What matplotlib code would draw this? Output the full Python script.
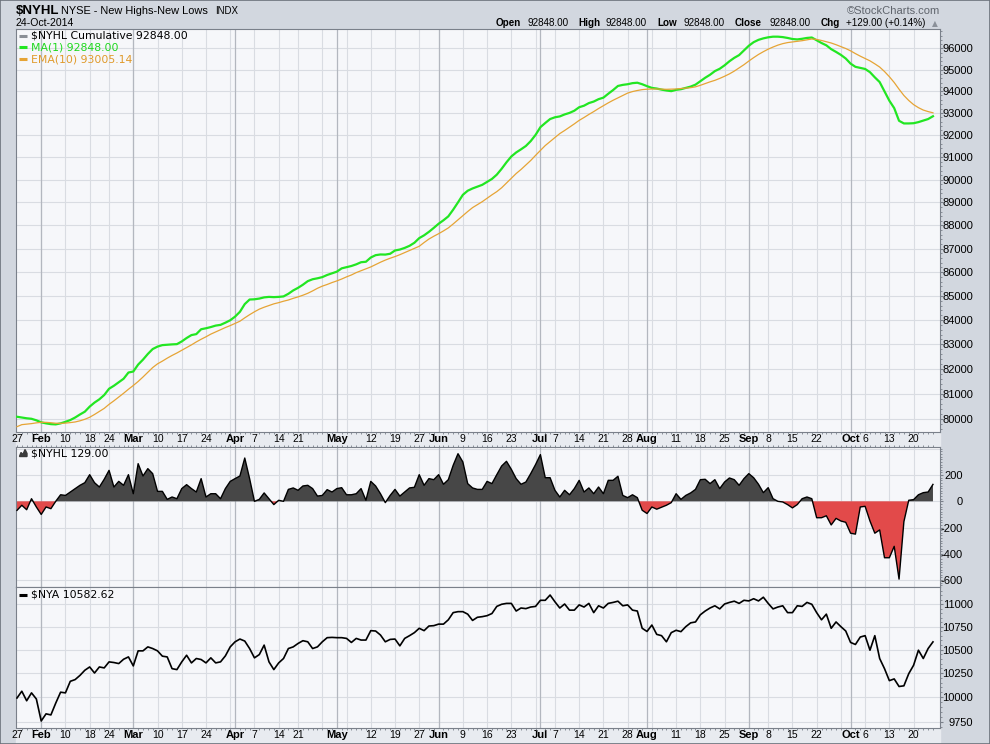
import numpy as np
import pandas as pd
import matplotlib
matplotlib.use("Agg")
import matplotlib.pyplot as plt
from matplotlib.lines import Line2D
from matplotlib.patches import Rectangle, Polygon
from matplotlib.ticker import FixedLocator, NullFormatter

# Trading days shown on the chart
HOLIDAYS = ["2014-02-17", "2014-04-18", "2014-05-26", "2014-07-04", "2014-09-01"]
DATES = pd.bdate_range("2014-01-27", "2014-10-24", freq="C", holidays=HOLIDAYS)

# $NYHL Cumulative (MA(1)) - green line
NYHL_CUM = [80100, 80070, 80040, 80020, 79960, 79880, 79840, 79810, 79800, 79840,
            79900, 79970, 80070, 80190, 80300, 80500, 80660, 80790, 80960, 81210,
            81330, 81470, 81610, 81860, 81900, 82180, 82380, 82610, 82810, 82910,
            82970, 82985, 83000, 83010, 83120, 83260, 83380, 83420, 83620, 83660,
            83710, 83770, 83800, 83890, 83990, 84140, 84340, 84660, 84850, 84860,
            84890, 84940, 84960, 84950, 84960, 84980, 85090, 85230, 85340, 85470,
            85620, 85700, 85740, 85790, 85880, 85950, 86020, 86160, 86210, 86260,
            86330, 86420, 86440, 86620, 86720, 86750, 86745, 86780, 86920, 86960,
            87030, 87120, 87250, 87450, 87570, 87720, 87890, 88070, 88220, 88390,
            88680, 89000, 89330, 89510, 89610, 89690, 89770, 89900, 90030, 90220,
            90480, 90770, 91030, 91210, 91350, 91500, 91720, 92000, 92350, 92540,
            92720, 92800, 92840, 92930, 93000, 93100, 93260, 93330, 93450, 93520,
            93630, 93700, 93880, 94050, 94240, 94290, 94320, 94370, 94390, 94320,
            94230, 94150, 94120, 94070, 94030, 94000, 94060, 94090, 94150, 94210,
            94300, 94460, 94620, 94760, 94930, 95040, 95200, 95390, 95550, 95680,
            95900, 96120, 96290, 96400, 96470, 96520, 96550, 96550, 96530, 96490,
            96440, 96420, 96450, 96490, 96510, 96380, 96250, 96140, 95960, 95830,
            95690, 95520, 95280, 95130, 95080, 95030, 94880, 94640, 94420, 93990,
            93560, 93220, 92640, 92520, 92520, 92530, 92580, 92650, 92720, 92848]

# EMA(10) - orange line
EMA10 = [79710, 79790, 79810, 79830, 79860, 79880, 79880, 79865, 79845, 79840,
         79850, 79870, 79895, 79940, 80000, 80080, 80190, 80310, 80430, 80590,
         80730, 80880, 81030, 81190, 81340, 81500, 81680, 81870, 82060, 82210,
         82320, 82440, 82550, 82650, 82760, 82870, 82980, 83100, 83210, 83310,
         83420, 83510, 83600, 83690, 83770, 83860, 83950, 84090, 84220, 84340,
         84450, 84530, 84600, 84670, 84720, 84780, 84830, 84900, 84960, 85030,
         85110, 85210, 85320, 85410, 85480, 85560, 85630, 85710, 85800, 85880,
         85980, 86060, 86140, 86220, 86320, 86420, 86510, 86590, 86660, 86740,
         86830, 86920, 87010, 87100, 87260, 87410, 87530, 87640, 87760, 87890,
         88060, 88240, 88420, 88600, 88770, 88900, 89030, 89180, 89330, 89470,
         89640, 89850, 90060, 90270, 90450, 90650, 90850, 91080, 91300, 91520,
         91700, 91880, 92060, 92200, 92350, 92500, 92660, 92790, 92930, 93060,
         93200, 93330, 93460, 93580, 93690, 93800, 93910, 93980, 94030, 94070,
         94090, 94100, 94100, 94090, 94085, 94090, 94100, 94120, 94140, 94160,
         94200, 94270, 94350, 94430, 94500, 94590, 94690, 94800, 94930, 95080,
         95230, 95400, 95560, 95710, 95840, 95960, 96060, 96150, 96220, 96270,
         96300, 96330, 96360, 96400, 96440, 96420, 96370, 96310, 96250, 96170,
         96080, 95990, 95880, 95750, 95630, 95520, 95410, 95270, 95120, 94910,
         94670, 94400, 94090, 93800, 93570, 93380, 93240, 93130, 93060, 93005]

# $NYHL daily (new highs - new lows)
NYHL = [-69, -30, -64, 20, -43, -100, -43, -56, 0, 50,
        45, 71, 97, 122, 142, 203, 142, 109, 168, 236,
        109, 152, 122, 203, 58, 287, 193, 249, 211, 76,
        76, 15, 33, 20, 97, 127, 97, 71, 173, 33,
        58, 58, 20, 97, 152, 173, 193, 330, 173, 0,
        15, 64, 20, -25, 8, 0, 91, 102, 84, 117,
        122, 97, 40, 45, 89, 71, 97, 104, 50, 50,
        58, 97, 8, 152, 117, 58, -10, 45, 91, 40,
        71, 102, 107, 203, 122, 173, 165, 203, 130, 165,
        274, 363, 300, 135, 102, 91, 91, 152, 135, 203,
        269, 305, 244, 173, 130, 147, 211, 280, 356, 180,
        180, 84, 33, 84, 50, 97, 160, 71, 102, 58,
        109, 58, 160, 160, 191, 45, 28, 50, 28, -68,
        -93, -43, -60, -45, -30, -10, 58, 15, 45, 64,
        91, 165, 168, 135, 165, 97, 147, 178, 165, 122,
        173, 211, 180, 130, 66, 104, 20, 0, -5, -25,
        -50, -25, 20, 33, 20, -125, -125, -110, -180, -130,
        -150, -160, -243, -250, -43, -38, -150, -243, -218, -430,
        -430, -343, -593, -155, 8, 13, 50, 66, 71, 129]

# $NYA close
NYA = [9990, 10060, 9962, 10043, 9980, 9757, 9829, 9818, 9938, 10050,
       10043, 10163, 10181, 10225, 10279, 10314, 10250, 10314, 10304, 10368,
       10361, 10350, 10396, 10421, 10325, 10486, 10486, 10529, 10511, 10486,
       10429, 10421, 10296, 10286, 10368, 10439, 10357, 10404, 10393, 10357,
       10411, 10357, 10368, 10432, 10529, 10584, 10614, 10592, 10511, 10411,
       10446, 10548, 10368, 10286, 10357, 10404, 10511, 10529, 10566, 10596,
       10584, 10511, 10529, 10584, 10629, 10632, 10629, 10629, 10621, 10577,
       10621, 10603, 10603, 10706, 10702, 10658, 10584, 10610, 10614, 10540,
       10621, 10651, 10684, 10732, 10706, 10757, 10761, 10778, 10778, 10826,
       10906, 10917, 10917, 10889, 10819, 10854, 10861, 10872, 10896, 10976,
       11000, 11010, 11010, 10924, 10958, 10951, 10969, 10976, 11045, 11045,
       11105, 11028, 10958, 11003, 10934, 10934, 10993, 10969, 11010, 10906,
       10983, 10958, 11010, 11021, 11035, 10983, 10993, 10934, 10924, 10732,
       10697, 10768, 10665, 10651, 10584, 10684, 10710, 10695, 10750, 10792,
       10802, 10882, 10924, 10958, 10983, 10948, 11003, 11021, 11035, 11010,
       11045, 11038, 11063, 11038, 11080, 11010, 10948, 10969, 10983, 10906,
       10906, 10983, 10976, 11021, 11000, 10906, 10826, 10889, 10732, 10802,
       10750, 10702, 10577, 10555, 10636, 10651, 10493, 10651, 10404, 10296,
       10170, 10188, 10109, 10116, 10243, 10332, 10493, 10404, 10511, 10583]

# x axis labels (date, text)
XLABELS = [("2014-01-27", "27"), ("2014-02-03", "Feb"), ("2014-02-10", "10"),
           ("2014-02-18", "18"), ("2014-02-24", "24"), ("2014-03-03", "Mar"),
           ("2014-03-10", "10"), ("2014-03-17", "17"), ("2014-03-24", "24"),
           ("2014-04-01", "Apr"), ("2014-04-07", "7"), ("2014-04-14", "14"),
           ("2014-04-21", "21"), ("2014-05-01", "May"), ("2014-05-12", "12"),
           ("2014-05-19", "19"), ("2014-05-27", "27"), ("2014-06-02", "Jun"),
           ("2014-06-09", "9"), ("2014-06-16", "16"), ("2014-06-23", "23"),
           ("2014-07-01", "Jul"), ("2014-07-07", "7"), ("2014-07-14", "14"),
           ("2014-07-21", "21"), ("2014-07-28", "28"), ("2014-08-01", "Aug"),
           ("2014-08-11", "11"), ("2014-08-18", "18"), ("2014-08-25", "25"),
           ("2014-09-02", "Sep"), ("2014-09-08", "8"), ("2014-09-15", "15"),
           ("2014-09-22", "22"), ("2014-10-01", "Oct"), ("2014-10-06", "6"),
           ("2014-10-13", "13"), ("2014-10-20", "20")]
MONTHS = {"Feb", "Mar", "Apr", "May", "Jun", "Jul", "Aug", "Sep", "Oct"}

Y1_TICKS = list(range(80000, 97000, 1000))
Y2_TICKS = [-600, -400, -200, 0, 200]
Y3_TICKS = [9750, 10000, 10250, 10500, 10750, 11000]

# Look
W, H = 990, 744
BG = "#d2d7df"
STRIP = "#e8ebf0"
FACE = "#f6f7fa"
GRID = "#d9dce2"
GRID_M = "#b3b7bf"
SPINE = "#7a808a"
GREEN = "#22e622"
ORANGE = "#e6a435"
DARK = "#474747"
RED = "#e24a4a"
TXT = ["Liberation Sans", "DejaVu Sans"]


def fx(x):
    return x / W


def fy(y):
    return 1 - y / H


plt.rcParams["axes.unicode_minus"] = False
fig = plt.figure(figsize=(9.9, 7.44), dpi=100, facecolor=BG)

for top, bot in [(432, 447), (728, 744)]:
    fig.add_artist(Rectangle((fx(16), fy(bot)), fx(940) - fx(16), fy(top) - fy(bot),
                             transform=fig.transFigure, color=STRIP, zorder=-5))


def make_ax(top, bottom):
    return fig.add_axes([fx(16), fy(bottom), fx(940) - fx(16), fy(top) - fy(bottom)],
                        facecolor=FACE)


ax1 = make_ax(29, 432)
ax2 = make_ax(447, 587)
ax3 = make_ax(587, 728)

x = np.arange(len(DATES))
pos = pd.Series(x, index=DATES)
week_first = pos.groupby(DATES.to_period("W")).min().values
month_first = pos.groupby(DATES.to_period("M")).min().values
label_pos = [DATES.get_loc(pd.Timestamp(d)) for d, _ in XLABELS]
label_txt = [t for _, t in XLABELS]

for ax in (ax1, ax2, ax3):
    ax.set_xlim(-0.2, 190.45)
    for p in week_first[1:]:
        ax.axvline(p, color=GRID, lw=0.8, zorder=0.5)
    for p in month_first[1:]:
        ax.axvline(p, color=GRID_M, lw=0.9, zorder=0.6)
    ax.grid(axis="y", which="major", color=GRID, lw=0.8)
    ax.set_axisbelow(True)
    for s in ax.spines.values():
        s.set_color(SPINE)
        s.set_linewidth(0.8)
    ax.set_xticks(x, minor=True)
    ax.xaxis.set_minor_formatter(NullFormatter())
    ax.tick_params(axis="y", which="both", left=False, right=True,
                   labelleft=False, labelright=True, direction="out", color=SPINE)
    ax.tick_params(axis="y", which="major", length=2.2, labelsize=8,
                   labelfontfamily="Liberation Sans")
    ax.tick_params(axis="y", which="minor", length=1.3)
    ax.tick_params(axis="x", which="minor", length=1.6, color=SPINE, direction="out")

# Panel 1: cumulative + EMA
ax1.plot(x, NYHL_CUM, color=GREEN, lw=1.6, zorder=3)
ax1.plot(x, EMA10, color=ORANGE, lw=0.9, zorder=4)
ax1.set_yscale("log")
ax1.set_ylim(79502, 96915)
ax1.set_yticks(Y1_TICKS, labels=[str(t) for t in Y1_TICKS])
ax1.yaxis.set_minor_locator(FixedLocator(np.arange(79600, 96900, 200)))
ax1.yaxis.set_minor_formatter(NullFormatter())
ax1.tick_params(axis="y", which="major", pad=21.5)

# Panel 2: daily NYHL area
v = np.array(NYHL, dtype=float)
ax2.fill_between(x, v, 0, where=v >= 0, interpolate=True, color=DARK, lw=0, zorder=2)
ax2.fill_between(x, v, 0, where=v <= 0, interpolate=True, color=RED, lw=0, zorder=2)
ax2.plot(x, v, color="black", lw=1.0, zorder=3)
ax2.axhline(400, color=GRID, lw=0.8, zorder=0.4)
ax2.set_ylim(-653, 414)
ax2.set_yticks(Y2_TICKS, labels=[str(t) for t in Y2_TICKS])
ax2.yaxis.set_minor_locator(FixedLocator(np.arange(-640, 420, 20)))
ax2.yaxis.set_minor_formatter(NullFormatter())
ax2.tick_params(axis="y", which="major", pad=14.4)

# Panel 3: NYA
ax3.plot(x, NYA, color="black", lw=1.2, zorder=3)
ax3.set_yscale("log")
ax3.set_ylim(9687, 11197)
ax3.set_yticks(Y3_TICKS, labels=[str(t) for t in Y3_TICKS])
ax3.yaxis.set_minor_locator(FixedLocator(np.arange(9700, 11200, 50)))
ax3.yaxis.set_minor_formatter(NullFormatter())
ax3.tick_params(axis="y", which="major", pad=21.5)

for ax in (ax1, ax2, ax3):
    for lbl in ax.get_yticklabels():
        lbl.set_horizontalalignment("right")

# x labels on panel 1 and 3
for ax, pad in [(ax1, 1.4), (ax3, 1.2)]:
    ax.set_xticks(label_pos, labels=label_txt)
    ax.tick_params(axis="x", which="major", length=0, pad=pad, labelsize=7.5,
                   labelfontfamily="Liberation Sans")
    for lbl in ax.get_xticklabels():
        if lbl.get_text() in MONTHS:
            lbl.set_fontweight("bold")
            lbl.set_fontsize(8)
ax2.set_xticks([])
ax2.tick_params(axis="x", which="minor", top=True, bottom=False)

# Header
fig.text(fx(16), fy(14.5), "$NYHL", fontsize=9.5, fontweight="bold", family=TXT, va="baseline")
fig.text(fx(61), fy(14.5), "NYSE - New Highs-New Lows", fontsize=7.9, family=TXT, va="baseline")
fig.text(fx(215), fy(14.5), "INDX", fontsize=7.0, family=TXT, va="baseline")
fig.text(fx(16), fy(26.5), "24-Oct-2014", fontsize=7.6, family=TXT, va="baseline")
fig.text(fx(940), fy(14.5), "\u00a9StockCharts.com", fontsize=8, family=TXT,
         color="#5f646c", ha="right", va="baseline")
hdr = [(496, "Open", True), (527, "92848.00", False), (578, "High", True),
       (606, "92848.00", False), (657, "Low", True), (683, "92848.00", False),
       (735, "Close", True), (769, "92848.00", False), (821, "Chg", True),
       (846, "+129.00 (+0.14%)", False)]
for hx, t, b in hdr:
    fig.text(fx(hx), fy(26.5), t, fontsize=7.1, family=TXT, va="baseline",
             fontweight="bold" if b else "normal")
fig.text(fx(932), fy(26.5), "\u25b2", fontsize=5.5, family=["DejaVu Sans"],
         color="#8a9099", va="baseline")

# Legends
LEG = ["DejaVu Sans"]


def legend_line(y, color, text, tcolor, icon="dash"):
    if icon == "dash":
        fig.add_artist(Line2D([fx(19), fx(27)], [fy(y), fy(y)], transform=fig.transFigure,
                              color=color, lw=2.2, solid_capstyle="butt"))
    else:
        pts = [(19.5, y + 3.5), (21, y - 0.5), (23, y + 1.5), (25, y - 3.5),
               (27, y + 0.5), (27, y + 3.5)]
        fig.add_artist(Polygon([(fx(a), fy(b)) for a, b in pts], closed=True,
                               transform=fig.transFigure, color=color))
    fig.text(fx(31), fy(y), text, fontsize=7.8, family=LEG, color=tcolor, va="center")


legend_line(35.5, "#8a8f96", "$NYHL Cumulative 92848.00", "black")
legend_line(47.2, GREEN, "MA(1) 92848.00", "#1ed81e")
legend_line(59.0, ORANGE, "EMA(10) 93005.14", "#e09a2a")
legend_line(453, "#3a3a3a", "$NYHL 129.00", "black", icon="area")
legend_line(594.7, "black", "$NYA 10582.62", "black")

fig.add_artist(Rectangle((0, 0), 1, 1, fill=False, edgecolor="#6b717b", lw=1.2,
                         transform=fig.transFigure))

fig.savefig("out.png", dpi=100, facecolor=BG)
